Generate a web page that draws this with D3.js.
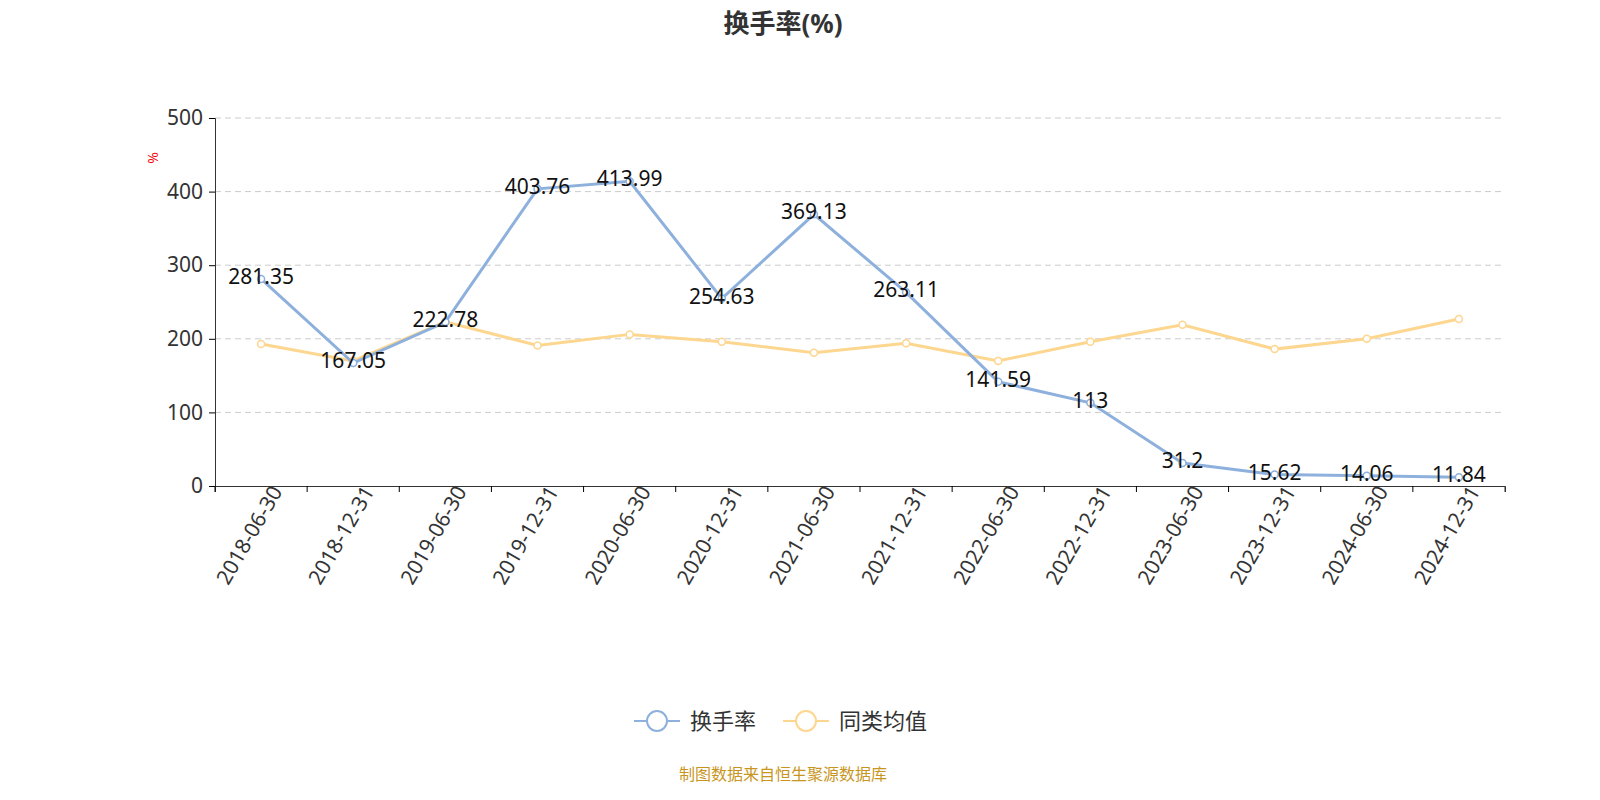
<!DOCTYPE html>
<html><head><meta charset="utf-8">
<script src="https://cdn.jsdelivr.net/npm/d3@7"></script>
<style>html,body{margin:0;padding:0;overflow:hidden;background:#fff;font-family:"Noto Sans","Noto Sans CJK SC",sans-serif}svg{display:block}</style>
</head><body><svg id="c" width="1600" height="800"></svg>
<script>
const categories=["2018-06-30","2018-12-31","2019-06-30","2019-12-31","2020-06-30","2020-12-31","2021-06-30","2021-12-31","2022-06-30","2022-12-31","2023-06-30","2023-12-31","2024-06-30","2024-12-31"];
const turnover=[281.35,167.05,222.78,403.76,413.99,254.63,369.13,263.11,141.59,113,31.2,15.62,14.06,11.84];
const peerAvg=[193,170,223,191,206,196,181,194,170,196,219,186,200,227];
const yTicks=[0,100,200,300,400,500];
const seriesNames=["换手率","同类均值"];
const colors=["#8eb0dc","#fdd68f"];

const svg=d3.select("#c");
const F='"Noto Sans","Noto Sans CJK SC",sans-serif';
const x=d3.scaleBand().domain(categories).range([215,1505]);
const y=d3.scaleLinear().domain([0,500]).range([486,118]);
const cx=d=>x(d)+x.bandwidth()/2;

svg.append("text").attr("x",783).attr("y",33).attr("text-anchor","middle").attr("font-size",26).attr("font-weight","bold").attr("fill","#333").attr("font-family",F).text("换手率(%)");
svg.selectAll(".g").data(yTicks.slice(1)).enter().append("line").attr("x1",215).attr("x2",1505).attr("y1",d=>y(d)).attr("y2",d=>y(d)).attr("stroke","#ccc").attr("stroke-dasharray","6,4");
const ya=svg.append("g").attr("transform","translate(215,0)").call(d3.axisLeft(y).tickValues(yTicks).tickSize(6).tickPadding(6));
ya.selectAll("text").attr("font-size",21).attr("fill","#333").attr("font-family",F);
ya.select(".domain").attr("stroke","#333");
svg.append("text").attr("transform","translate(158,158) rotate(-90)").attr("text-anchor","middle").attr("font-size",14).attr("fill","red").text("%");
const xa=svg.append("g").attr("transform","translate(0,486)").call(d3.axisBottom(x).tickSize(6).tickSizeOuter(6));
xa.selectAll(".tick line").attr("transform",`translate(${-x.bandwidth()/2},0)`);
xa.append("line").attr("x1",1505).attr("x2",1505).attr("y1",0).attr("y2",6).attr("stroke","#333");
xa.select(".domain").attr("stroke","#333");
xa.selectAll("text").attr("font-size",21).attr("fill","#333").attr("font-family",F).attr("text-anchor","end").attr("dx","0.3em").attr("dy","0.6em").attr("transform","rotate(-60)");

const line=d3.line().x((d,i)=>cx(categories[i])).y(d=>y(d));
[[peerAvg,1],[turnover,0]].forEach(([data,k])=>{
  svg.append("path").datum(data).attr("d",line).attr("fill","none").attr("stroke",colors[k]).attr("stroke-width",3);
  svg.selectAll(".p"+k).data(data).enter().append("circle").attr("cx",(d,i)=>cx(categories[i])).attr("cy",d=>y(d)).attr("r",3.5).attr("fill","#fff").attr("stroke",colors[k]).attr("stroke-width",1.5);
});
svg.selectAll(".lab").data(turnover).enter().append("text").attr("x",(d,i)=>cx(categories[i])).attr("y",d=>y(d)+5).attr("text-anchor","middle").attr("font-size",21).attr("fill","#111").attr("font-family",F).text(d=>d);

const lg=[{x:634,n:0},{x:783,n:1}];
lg.forEach(o=>{
  svg.append("line").attr("x1",o.x).attr("x2",o.x+46).attr("y1",721).attr("y2",721).attr("stroke",colors[o.n]).attr("stroke-width",2);
  svg.append("circle").attr("cx",o.x+23).attr("cy",721).attr("r",10).attr("fill","#fff").attr("stroke",colors[o.n]).attr("stroke-width",2);
  svg.append("text").attr("x",o.x+56).attr("y",729).attr("font-size",22).attr("fill","#333").attr("font-family",F).text(seriesNames[o.n]);
});
svg.append("text").attr("x",783).attr("y",780).attr("text-anchor","middle").attr("font-size",16).attr("fill","#c8961e").attr("font-family",F).text("制图数据来自恒生聚源数据库");
</script></body></html>
